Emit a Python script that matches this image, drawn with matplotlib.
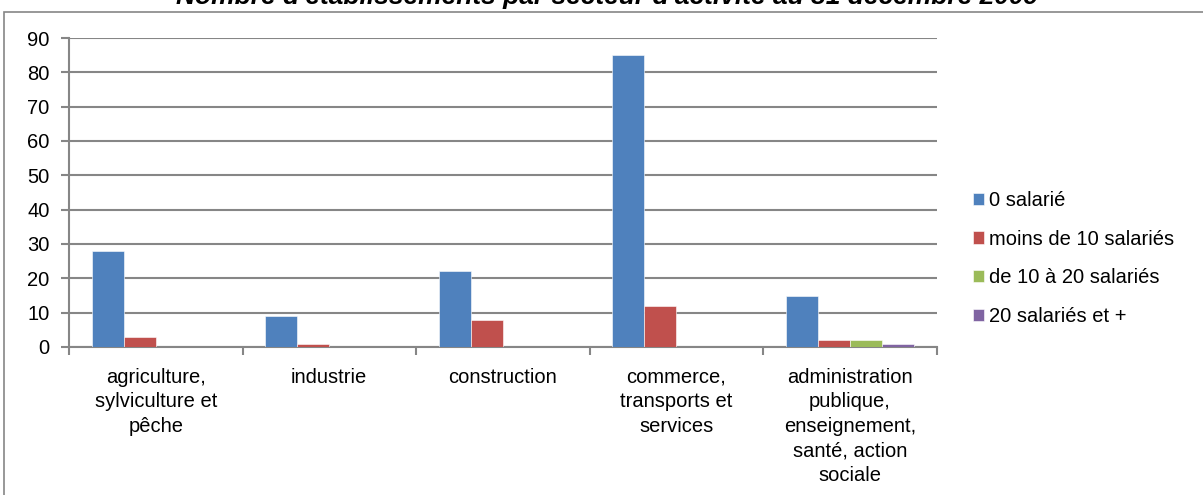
import matplotlib.pyplot as plt
from matplotlib.patches import Rectangle
import numpy as np

# Données
categories = [
    "agriculture,\nsylviculture et\npêche",
    "industrie",
    "construction",
    "commerce,\ntransports et\nservices",
    "administration\npublique,\nenseignement,\nsanté, action\nsociale",
]
series_names = ["0 salarié", "moins de 10 salariés", "de 10 à 20 salariés", "20 salariés et +"]
sal_0 = [28, 9, 22, 85, 15]
sal_moins10 = [3, 1, 8, 12, 2]
sal_10_20 = [0, 0, 0, 0, 2]
sal_20plus = [0, 0, 0, 0, 1]
y_ticks = list(range(0, 91, 10))

TITLE = "Nombre d'établissements par secteur d'activité au 31 décembre 2009"
COLORS = ["#4F81BD", "#C0504D", "#9BBB59", "#8064A2"]
GRID = "#868686"
FS = 14.5

plt.rcParams["font.family"] = ["Liberation Sans", "DejaVu Sans"]

W, H = 1203, 495
fig = plt.figure(figsize=(W / 100, H / 100), dpi=100)

# cadre du graphique (coupé à droite et en bas)
fig.patches.append(Rectangle((4 / W, -0.05), 1.1, 1 - 12 / H + 0.05, transform=fig.transFigure,
                             fill=False, edgecolor=GRID, linewidth=1.2))

ax = fig.add_axes([69 / W, 1 - 347 / H, (936.5 - 69) / W, (347 - 38) / H])

values = [sal_0, sal_moins10, sal_10_20, sal_20plus]
x = np.arange(len(categories))
bw = 0.184
for i, (vals, name, col) in enumerate(zip(values, series_names, COLORS)):
    ax.bar(x + (i - 1.5) * bw, vals, width=bw, color=col, label=name,
           edgecolor="white", linewidth=0.4, zorder=3)

ax.set_xlim(-0.5, len(categories) - 0.5)
ax.set_ylim(0, 90)
ax.set_yticks(y_ticks)
ax.yaxis.grid(True, color=GRID, linewidth=1.5, zorder=0)
ax.set_axisbelow(True)

ax.set_xticks(np.arange(len(categories) + 1) - 0.5, minor=False)
ax.set_xticklabels([])
ax.set_xticks(x, minor=True)
ax.set_xticklabels(categories, minor=True, fontsize=FS, linespacing=1.37, va="top")
ax.tick_params(axis="x", which="minor", length=0, pad=15)
ax.tick_params(axis="x", which="major", length=6, color=GRID, width=1.5, direction="out")
ax.tick_params(axis="y", length=6, color=GRID, width=1.5, labelsize=FS, pad=8)

for s in ["top", "right"]:
    ax.spines[s].set_visible(False)
for s in ["left", "bottom"]:
    ax.spines[s].set_color(GRID)
    ax.spines[s].set_linewidth(1.5)

leg = ax.legend(loc="center left", bbox_to_anchor=(973 / W, 1 - 258.5 / H),
                bbox_transform=fig.transFigure, frameon=False, fontsize=FS,
                handlelength=0.55, handleheight=0.55, handletextpad=0.25,
                labelspacing=0.98, borderpad=0, borderaxespad=0)

fig.text(607 / W, 1 - 4 / H, TITLE, ha="center", va="baseline",
         fontsize=19, fontweight="bold", fontstyle="italic")

fig.savefig("out.png", dpi=100)
